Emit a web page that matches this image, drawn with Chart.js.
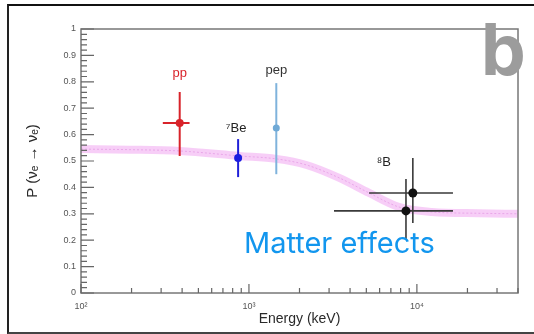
<!DOCTYPE html>
<html>
<head>
<meta charset="utf-8">
<script src="https://cdn.jsdelivr.net/npm/chart.js@4.4.1/dist/chart.umd.min.js"></script>
<style>
html, body { margin: 0; padding: 0; background: #fff; }
#wrap { position: relative; width: 534px; height: 334px; overflow: hidden; }
#frame { position: absolute; left: 7px; top: 4px; width: 560px; height: 326px;
  border-top: 2px solid #111; border-left: 2px solid #222; border-bottom: 2px solid #444; }
#chart { position: absolute; left: 0; top: 0; }
#matter { position: absolute; left: 244px; top: 228px; font: 29px Inter, sans-serif;
  line-height: 29px; color: #1296ee; white-space: nowrap; }
#panel { position: absolute; left: 481px; top: 14px; font: bold 71px Inter, sans-serif;
  line-height: 71px; color: #9c9c9c; }
</style>
</head>
<body>
<div id="wrap">
  <div id="frame"></div>
  <canvas id="chart" width="534" height="334"></canvas>
  <div id="matter">Matter effects</div>
  <div id="panel">b</div>
</div>
<script>
// survival probability band (MSW prediction)
const bandEnergy = [100, 195, 387, 880, 1455, 2200, 3450, 5190, 7800, 12300, 23300, 40000];
const bandProb = [0.545, 0.543, 0.538, 0.519, 0.508, 0.485, 0.436, 0.379, 0.326, 0.307, 0.302, 0.300];

// measured points
const sources = ["pp", "\u2077Be", "pep", "\u2078B", ""];
const energy = [387, 862, 1455, 9460, 8610];
const prob = [0.644, 0.511, 0.625, 0.379, 0.311];
const probLow = [0.519, 0.439, 0.450, 0.265, 0.205];
const probHigh = [0.761, 0.583, 0.795, 0.511, 0.432];
const energyLow = [307, null, null, 5190, 3210];
const energyHigh = [443, null, null, 16400, 16400];

const xTickLabels = { 100: "10\u00b2", 1000: "10\u00b3", 10000: "10\u2074" };

// styling per point
const pointColors = ["#d8232a", "#1c1ce0", "#6fa9d6", "#111111", "#111111"];
const barColors = ["#d8232a", "#2020d8", "#7fb3dc", "#3a3a3a", "#3a3a3a"];
const labelColors = ["#d8232a", "#222", "#333", "#222", "#222"];
const labelOffsets = [[0, -19], [-2, -11], [0, -13], [-29, 4], [0, 0]];

const decor = {
  id: "decor",
  // error bars go on top of the band, below the markers
  afterDatasetDraw(chart, args) {
    if (args.index !== 1) return;
    const { ctx, scales: { x, y } } = chart;
    ctx.save();
    energy.forEach((e, i) => {
      const px = x.getPixelForValue(e);
      const py = y.getPixelForValue(prob[i]);
      ctx.strokeStyle = barColors[i];
      ctx.lineWidth = i > 2 ? 1.6 : 2;
      ctx.beginPath();
      ctx.moveTo(px, y.getPixelForValue(probLow[i]));
      ctx.lineTo(px, y.getPixelForValue(probHigh[i]));
      if (energyLow[i]) {
        ctx.moveTo(x.getPixelForValue(energyLow[i]), py);
        ctx.lineTo(x.getPixelForValue(energyHigh[i]), py);
      }
      ctx.stroke();
    });
    ctx.restore();
  },
  afterDatasetsDraw(chart) {
    const { ctx, chartArea: a, scales: { x, y } } = chart;
    ctx.save();
    // frame
    ctx.strokeStyle = "#777";
    ctx.lineWidth = 1.5;
    ctx.strokeRect(a.left, a.top, a.right - a.left, a.bottom - a.top);
    // inward tick marks
    ctx.strokeStyle = "#666";
    ctx.lineWidth = 1.2;
    ctx.beginPath();
    for (let k = 0; k <= 50; k++) {
      const py = y.getPixelForValue(k / 50);
      ctx.moveTo(a.left, py);
      ctx.lineTo(a.left + (k % 5 === 0 ? 13 : 6), py);
    }
    for (let d = 2; d <= 4; d++) {
      for (let m = 1; m <= 9; m++) {
        const v = m * Math.pow(10, d);
        if (v > x.max) continue;
        const px = x.getPixelForValue(v);
        ctx.moveTo(px, a.bottom);
        ctx.lineTo(px, a.bottom - (m === 1 ? 9 : 5));
      }
    }
    ctx.stroke();
    // source labels
    ctx.font = "13px 'Liberation Sans', Arial, sans-serif";
    ctx.textAlign = "center";
    ctx.textBaseline = "middle";
    sources.forEach((s, i) => {
      if (!s) return;
      ctx.fillStyle = labelColors[i];
      const px = x.getPixelForValue(energy[i]) + labelOffsets[i][0];
      const py = y.getPixelForValue(probHigh[i]) + labelOffsets[i][1];
      ctx.fillText(s, px, py);
    });
    ctx.restore();
  }
};

const bandPoints = bandEnergy.map((e, i) => ({ x: e, y: bandProb[i] }));

new Chart(document.getElementById("chart"), {
  type: "scatter",
  data: {
    datasets: [
      {
        type: "line",
        order: 2,
        data: bandPoints,
        borderColor: "rgba(240, 165, 240, 0.55)",
        borderWidth: 8,
        pointRadius: 0,
        cubicInterpolationMode: "monotone",
        fill: false
      },
      {
        type: "line",
        order: 1,
        data: bandPoints,
        borderColor: "rgba(215, 120, 215, 0.45)",
        borderWidth: 1,
        borderDash: [2, 2],
        pointRadius: 0,
        cubicInterpolationMode: "monotone",
        fill: false
      },
      {
        order: 0,
        data: energy.map((e, i) => ({ x: e, y: prob[i] })),
        pointRadius: [4, 4, 3.5, 4.5, 4.5],
        pointBackgroundColor: pointColors,
        pointBorderColor: pointColors,
        pointBorderWidth: 0
      }
    ]
  },
  options: {
    responsive: false,
    animation: false,
    layout: { padding: { left: 0, right: 16, top: 29, bottom: 0 } },
    plugins: { legend: { display: false }, tooltip: { enabled: false } },
    scales: {
      x: {
        type: "logarithmic",
        min: 100,
        max: 40000,
        afterFit(s) { s.height = 41; },
        grid: { display: false, drawTicks: false },
        border: { display: false },
        ticks: {
          autoSkip: false,
          maxRotation: 0,
          padding: 8,
          color: "#555",
          font: { size: 9, family: "'Liberation Sans', Arial, sans-serif" },
          callback: v => xTickLabels[v] || ""
        },
        title: {
          display: true,
          text: "Energy (keV)",
          color: "#2a2a2a",
          padding: { top: 6, bottom: 6 },
          font: { size: 14, family: "'Liberation Sans', Arial, sans-serif" }
        }
      },
      y: {
        min: 0,
        max: 1,
        afterFit(s) { s.width = 81; },
        grid: { display: false, drawTicks: false },
        border: { display: false },
        ticks: {
          stepSize: 0.1,
          padding: 5,
          color: "#555",
          font: { size: 9, family: "'Liberation Sans', Arial, sans-serif" },
          callback: v => (v === 0 ? "0" : v === 1 ? "1" : v.toFixed(1))
        },
        title: {
          display: true,
          text: "P (\u03bd\u2091 \u2192 \u03bd\u2091)",
          color: "#2a2a2a",
          padding: { top: 24, bottom: 24 },
          font: { size: 15, family: "'Liberation Sans', Arial, sans-serif" }
        }
      }
    }
  },
  plugins: [decor]
});
</script>
</body>
</html>
